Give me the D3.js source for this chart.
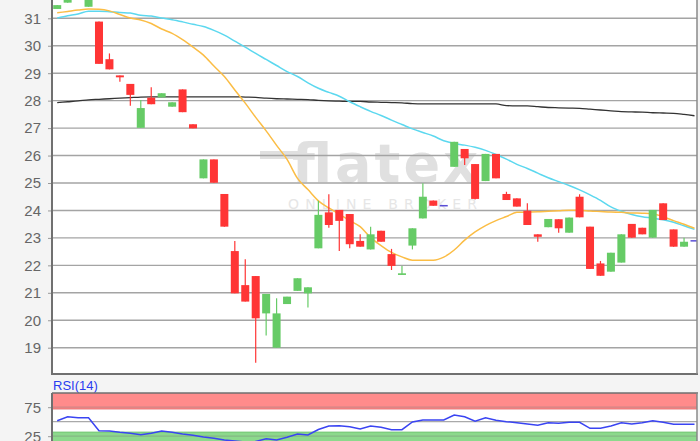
<!DOCTYPE html>
<html>
<head>
<meta charset="utf-8">
<script src="https://cdn.jsdelivr.net/npm/d3@7"></script>
<style>
  html, body { margin: 0; padding: 0; background: #f4f4f4; }
  svg { display: block; font-family: "Liberation Sans", Arial, sans-serif; }
</style>
</head>
<body>
<svg id="chart"></svg>
<script>
// candle data, one entry per trading day
const open  = [31.34, 31.57, 31.80, 31.42, 30.88, 29.51, 28.92, 28.61, 27.01, 28.11, 28.12, 27.78, 28.41, 27.14, 25.17, 25.86, 24.60, 22.52, 21.28, 21.61, 20.25, 19.00, 20.59, 21.07, 20.98, 22.62, 23.93, 24.02, 23.87, 22.89, 22.58, 23.26, 22.41, 21.65, 22.72, 23.71, 24.36, 24.20, 25.59, 26.24, 25.69, 25.07, 26.06, 24.60, 24.44, 23.99, 23.13, 23.39, 23.68, 23.19, 24.50, 23.41, 22.07, 21.77, 22.10, 23.51, 23.37, 23.01, 24.26, 23.31, 22.68, 22.92];
const high  = [31.48, 31.74, 32.05, 31.70, 30.88, 29.72, 28.92, 28.61, 28.02, 28.49, 28.27, 27.94, 28.41, 27.14, 25.86, 25.86, 24.60, 22.89, 22.22, 21.61, 20.96, 20.80, 20.86, 21.53, 21.20, 24.35, 24.59, 24.02, 23.87, 23.13, 23.41, 23.26, 22.60, 21.98, 23.35, 24.99, 24.36, 24.20, 26.50, 26.24, 25.69, 26.06, 26.06, 24.68, 24.44, 24.26, 23.13, 23.69, 23.68, 23.74, 24.59, 23.41, 22.16, 22.46, 23.13, 23.51, 23.37, 24.02, 24.26, 23.31, 23.01, 22.92];
const low   = [31.34, 31.57, 31.80, 31.42, 29.34, 29.14, 28.69, 27.81, 27.01, 27.87, 28.12, 27.78, 27.58, 26.99, 25.17, 25.01, 23.41, 20.98, 20.68, 18.45, 19.44, 19.00, 20.59, 21.07, 20.46, 22.62, 23.37, 22.52, 22.62, 22.68, 22.58, 22.86, 21.83, 21.65, 22.58, 23.71, 24.17, 24.20, 25.59, 25.66, 24.40, 25.07, 25.17, 24.38, 24.14, 23.47, 22.86, 23.39, 23.19, 23.19, 23.75, 21.87, 21.62, 21.77, 22.10, 23.01, 23.13, 23.01, 23.65, 22.68, 22.68, 22.92];
const close = [31.48, 31.74, 32.05, 31.70, 29.34, 29.14, 28.85, 28.21, 27.73, 27.87, 28.27, 27.94, 27.58, 26.99, 25.86, 25.01, 23.41, 20.98, 20.68, 20.07, 20.96, 20.25, 20.86, 21.53, 21.20, 23.84, 23.47, 23.62, 22.77, 22.68, 23.13, 22.86, 21.98, 21.71, 23.35, 24.50, 24.17, 24.20, 26.50, 25.90, 24.42, 26.06, 25.17, 24.38, 24.14, 23.47, 23.04, 23.69, 23.35, 23.74, 23.75, 21.87, 21.62, 22.46, 23.13, 23.01, 23.13, 24.02, 23.65, 22.68, 22.86, 22.92];

// moving averages
const maShort = [31.20, 31.25, 31.30, 31.34, 31.33, 31.27, 31.14, 31.01, 30.94, 30.81, 30.61, 30.45, 30.22, 29.95, 29.66, 29.26, 28.88, 28.39, 27.91, 27.39, 26.90, 26.37, 25.86, 25.17, 24.76, 24.35, 24.09, 23.86, 23.63, 23.41, 23.01, 22.72, 22.47, 22.31, 22.19, 22.19, 22.19, 22.30, 22.56, 22.92, 23.22, 23.45, 23.63, 23.78, 23.93, 23.94, 23.95, 23.97, 23.99, 24.01, 24.01, 23.98, 23.96, 23.94, 23.93, 23.91, 23.90, 23.88, 23.77, 23.63, 23.50, 23.35];
const maMid   = [31.01, 31.09, 31.16, 31.26, 31.26, 31.24, 31.21, 31.19, 31.11, 31.08, 31.01, 30.95, 30.87, 30.78, 30.70, 30.56, 30.39, 30.17, 29.95, 29.72, 29.50, 29.28, 29.06, 28.88, 28.65, 28.45, 28.30, 28.16, 27.96, 27.78, 27.61, 27.46, 27.29, 27.13, 26.97, 26.84, 26.71, 26.54, 26.44, 26.38, 26.30, 26.19, 26.04, 25.87, 25.68, 25.53, 25.36, 25.19, 25.05, 24.91, 24.75, 24.57, 24.37, 24.13, 23.97, 23.85, 23.77, 23.72, 23.66, 23.57, 23.44, 23.31];
const maLong  = [27.93, 27.96, 27.99, 28.03, 28.05, 28.07, 28.09, 28.11, 28.13, 28.14, 28.14, 28.14, 28.14, 28.14, 28.14, 28.14, 28.14, 28.14, 28.13, 28.12, 28.09, 28.07, 28.06, 28.05, 28.04, 28.01, 27.99, 27.98, 27.97, 27.97, 27.95, 27.94, 27.93, 27.92, 27.89, 27.88, 27.88, 27.88, 27.88, 27.88, 27.88, 27.88, 27.88, 27.82, 27.81, 27.81, 27.78, 27.75, 27.74, 27.73, 27.72, 27.69, 27.66, 27.63, 27.60, 27.59, 27.58, 27.56, 27.55, 27.54, 27.50, 27.45];

// RSI(14)
const rsi = [51.7, 58.6, 56.9, 56.9, 34.5, 34.0, 31.7, 30.0, 27.6, 30.0, 34.0, 31.7, 28.8, 26.6, 23.6, 21.4, 18.4, 16.7, 15.0, 15.9, 20.7, 18.4, 23.1, 28.8, 27.1, 36.6, 42.6, 43.1, 41.4, 37.4, 42.6, 40.3, 36.2, 36.2, 49.5, 52.9, 52.9, 52.9, 61.6, 58.6, 50.7, 56.9, 52.4, 50.0, 48.3, 46.0, 43.8, 48.3, 47.2, 49.0, 49.0, 38.6, 38.6, 42.6, 48.3, 46.0, 48.3, 51.7, 49.0, 45.5, 45.5, 45.5];

const priceTicks = [19, 20, 21, 22, 23, 24, 25, 26, 27, 28, 29, 30, 31];
const rsiTicks = [25, 75];
const rsiBands = [[72, 100, "high"], [0, 32, "low"]];

const width = 700, height = 441;
const left = 52, right = 697;
const mainTop = -40, mainBottom = 374;
const rsiTop = 393, rsiBottom = 451;

const svg = d3.select('#chart')
  .attr('width', width)
  .attr('height', height);

svg.append('rect')
  .attr('width', width).attr('height', height)
  .attr('fill', '#f4f4f4');

let x = d3.scaleLinear()
  .domain([0, open.length - 1])
  .range([57.2, 694.5]);

let y = d3.scaleLinear()
  .domain([19, 31])
  .range([347.7, 18.3]);

let yr = d3.scaleLinear()
  .domain([0, 100])
  .range([450.7, 392.7]);

// ---- main panel ----
const defs = svg.append('defs');
defs.append('clipPath').attr('id', 'clipMain')
  .append('rect')
  .attr('x', left).attr('y', mainTop)
  .attr('width', right - left).attr('height', mainBottom - mainTop);
defs.append('clipPath').attr('id', 'clipRsi')
  .append('rect')
  .attr('x', left).attr('y', rsiTop)
  .attr('width', right - left).attr('height', rsiBottom - rsiTop);

svg.append('rect')
  .attr('x', left).attr('y', mainTop)
  .attr('width', right - left).attr('height', mainBottom - mainTop)
  .attr('fill', '#fff');

// watermark
let wm = svg.append('g').attr('clip-path', 'url(#clipMain)');
wm.append('rect')
  .attr('x', 260).attr('y', 151)
  .attr('width', 40).attr('height', 8)
  .attr('fill', '#e0e0e0');
wm.append('text')
  .attr('x', 292).attr('y', 182)
  .attr('font-family', 'DejaVu Sans, sans-serif')
  .attr('font-weight', 'bold')
  .attr('font-size', 54)
  .attr('textLength', 186)
  .attr('lengthAdjust', 'spacing')
  .attr('fill', '#e0e0e0')
  .text('flatex');
wm.append('text')
  .attr('x', 288).attr('y', 209)
  .attr('font-family', 'DejaVu Sans, sans-serif')
  .attr('font-size', 14)
  .attr('textLength', 189)
  .attr('lengthAdjust', 'spacing')
  .attr('fill', '#e6e6e6')
  .text('ONLINE BROKER');

// gridlines
svg.append('g')
  .selectAll('line')
  .data(priceTicks)
  .enter()
  .append('line')
  .attr('x1', left).attr('x2', right)
  .attr('y1', d => y(d)).attr('y2', d => y(d))
  .attr('stroke', '#a4a4a4')
  .attr('stroke-width', 1.4);

let yAxis = svg.append('g')
  .attr('transform', `translate(${left},0)`)
  .call(d3.axisLeft(y).tickValues(priceTicks).tickSize(4).tickPadding(7).tickFormat(d3.format('d')));
yAxis.select('.domain').remove();
yAxis.selectAll('line').attr('stroke', '#999');
yAxis.selectAll('text')
  .attr('fill', '#666')
  .attr('font-size', 15)
  .attr('font-family', 'Liberation Sans, Arial, sans-serif');

let plot = svg.append('g').attr('clip-path', 'url(#clipMain)');

let line = d3.line()
  .x((d, i) => x(i))
  .y(d => y(d))
  .curve(d3.curveMonotoneX);

plot.append('path').datum(maLong)
  .attr('d', line).attr('fill', 'none')
  .attr('stroke', '#333').attr('stroke-width', 1.3);
plot.append('path').datum(maMid)
  .attr('d', line).attr('fill', 'none')
  .attr('stroke', '#5cd8ef').attr('stroke-width', 1.5);
plot.append('path').datum(maShort)
  .attr('d', line).attr('fill', 'none')
  .attr('stroke', '#fbbd45').attr('stroke-width', 1.5);

const colorOf = i => close[i] > open[i] ? '#66cb66' : (close[i] < open[i] ? '#ff3535' : '#5b4fd6');

let candles = plot.selectAll('g.candle')
  .data(open.map((d, i) => i))
  .enter()
  .append('g')
  .attr('class', 'candle');

candles.append('line')
  .attr('x1', i => x(i)).attr('x2', i => x(i))
  .attr('y1', i => y(high[i])).attr('y2', i => y(low[i]))
  .attr('stroke', colorOf)
  .attr('stroke-width', 1.2);

candles.append('rect')
  .attr('x', i => x(i) - 4)
  .attr('width', 8)
  .attr('y', i => y(Math.max(open[i], close[i])))
  .attr('height', i => Math.max(1.5, Math.abs(y(open[i]) - y(close[i]))))
  .attr('fill', colorOf);

// borders of main panel
svg.append('line')
  .attr('x1', left).attr('x2', left).attr('y1', mainTop).attr('y2', mainBottom + 1)
  .attr('stroke', '#707070').attr('stroke-width', 2);
svg.append('line')
  .attr('x1', left).attr('x2', right + 1).attr('y1', mainBottom).attr('y2', mainBottom)
  .attr('stroke', '#707070').attr('stroke-width', 2);
svg.append('line')
  .attr('x1', right).attr('x2', right).attr('y1', mainTop).attr('y2', mainBottom)
  .attr('stroke', '#8a8a8a').attr('stroke-width', 1.5);

// ---- RSI panel ----
svg.append('text')
  .attr('x', 53).attr('y', 390)
  .attr('fill', '#2a3cf0')
  .attr('font-size', 13)
  .text('RSI(14)');

svg.append('rect')
  .attr('x', left).attr('y', rsiTop)
  .attr('width', right - left).attr('height', rsiBottom - rsiTop)
  .attr('fill', '#fff');

let rp = svg.append('g').attr('clip-path', 'url(#clipRsi)');

rp.selectAll('rect.band')
  .data(rsiBands)
  .enter()
  .append('rect')
  .attr('class', 'band')
  .attr('x', left).attr('width', right - left)
  .attr('y', d => yr(d[1]))
  .attr('height', d => yr(d[0]) - yr(d[1]))
  .attr('fill', d => d[2] === 'high' ? '#ff8b8b' : '#8cd98c')
  .attr('stroke', d => d[2] === 'high' ? '#e46d6d' : '#6cc46c')
  .attr('stroke-width', 1);

rp.selectAll('line.grid')
  .data([25, 50, 75])
  .enter()
  .append('line')
  .attr('class', 'grid')
  .attr('x1', left).attr('x2', right)
  .attr('y1', d => yr(d)).attr('y2', d => yr(d))
  .attr('stroke', d => d === 50 ? '#a9a9a9' : 'rgba(120,120,120,0.35)')
  .attr('stroke-width', 1.2);

rp.append('path').datum(rsi)
  .attr('d', d3.line().x((d, i) => x(i)).y(d => yr(d)))
  .attr('fill', 'none')
  .attr('stroke', '#3a44f2')
  .attr('stroke-width', 1.5);

let rAxis = svg.append('g')
  .attr('transform', `translate(${left},0)`)
  .call(d3.axisLeft(yr).tickValues(rsiTicks).tickSize(4).tickPadding(7));
rAxis.select('.domain').remove();
rAxis.selectAll('line').attr('stroke', '#999');
rAxis.selectAll('text')
  .attr('fill', '#666')
  .attr('font-size', 15)
  .attr('font-family', 'Liberation Sans, Arial, sans-serif');

svg.append('line')
  .attr('x1', left).attr('x2', left).attr('y1', rsiTop).attr('y2', rsiBottom)
  .attr('stroke', '#707070').attr('stroke-width', 2);
svg.append('line')
  .attr('x1', left).attr('x2', right + 1).attr('y1', rsiTop).attr('y2', rsiTop)
  .attr('stroke', '#707070').attr('stroke-width', 1.5);
svg.append('line')
  .attr('x1', right).attr('x2', right).attr('y1', rsiTop).attr('y2', rsiBottom)
  .attr('stroke', '#8a8a8a').attr('stroke-width', 1.5);
</script>
</body>
</html>
